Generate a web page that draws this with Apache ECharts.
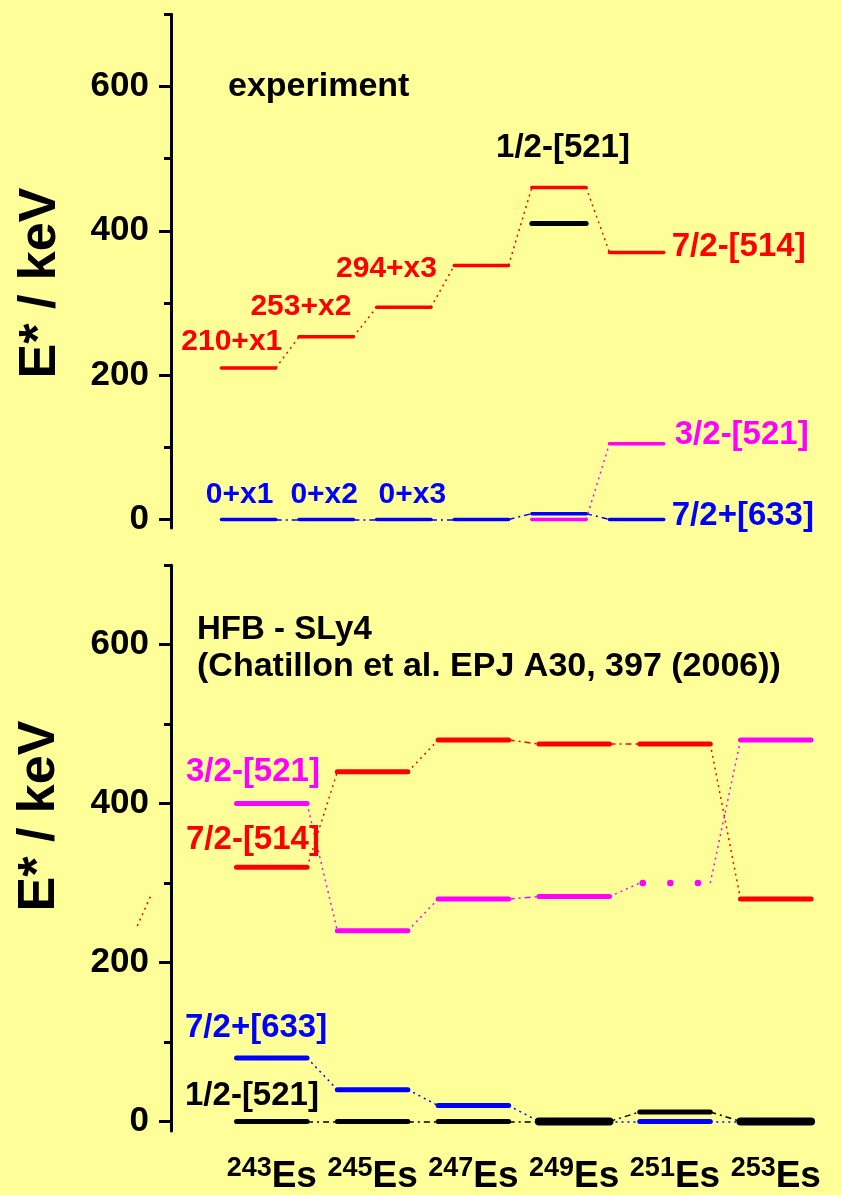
<!DOCTYPE html>
<html>
<head>
<meta charset="utf-8">
<script src="https://cdn.jsdelivr.net/npm/echarts@6/dist/echarts.min.js"></script>
<style>
  html, body { margin: 0; padding: 0; background: #FFFF99; }
  #chart { width: 842px; height: 1195px; }
</style>
</head>
<body>
<div id="chart"></div>
<script>
// Einsteinium isotopes (mass numbers)
const isotopes = [243, 245, 247, 249, 251, 253];

// Experiment: level energies in keV (null = level not shown)
const expOrb514  = [210, 253, 294, 352, 460, 370];        // 7/2-[514]
const expOrb521h = [null, null, null, null, 410, null];   // 1/2-[521]
const expOrb521t = [null, null, null, null, 0, 105];      // 3/2-[521]
const expOrb633  = [0, 0, 0, 0, 8, 0];                    // 7/2+[633]

// HFB - SLy4 calculation: level energies in keV
const hfbOrb514  = [320, 440, 480, 475, 475, 280];        // 7/2-[514]
const hfbOrb521t = [400, 240, 280, 283, 300, 480];        // 3/2-[521]
const hfbOrb633  = [80, 40, 20, 0, 0, 0];                 // 7/2+[633]
const hfbOrb521h = [0, 0, 0, 0, 12, 0];                   // 1/2-[521]

// short red connector piece lying left of the lower energy axis
const hfbEdgeLink = [[240.33, 246], [240.62, 287]];

// axis ticks
const yTicks = [0, 200, 400, 600];
const yMinorTicks = [100, 300, 500, 700];

// texts
const orbitalNames = { o514: '7/2-[514]', o521h: '1/2-[521]', o521t: '3/2-[521]', o633: '7/2+[633]' };
const expShiftTags = ['210+x1', '253+x2', '294+x3'];
const expGroundTags = ['0+x1', '0+x2', '0+x3'];
const panelTitles = ['experiment', 'HFB - SLy4', '(Chatillon et al. EPJ A30, 397 (2006))'];
const axisTitle = 'E* / keV';
const elementSymbol = 'Es';

// ---------------------------------------------------------------
const FONT = '"Liberation Sans", Arial, Helvetica, sans-serif';
const RED = '#FF0000', BLUE = '#0000FF', MAG = '#FF00FF', BLK = '#000000';
const HW = 0.7;                  // half length of a level bar, in mass units
const DOT = [2, 4];
const DASHDOT = [6, 4, 2, 4];

function levelSeries(panel, values, color, opts) {
  const data = [];
  values.forEach((v, i) => { if (v !== null) data.push([isotopes[i], v, i]); });
  return {
    type: 'custom', xAxisIndex: panel, yAxisIndex: panel * 2, silent: true, z: 3,
    data,
    renderItem(params, api) {
      const m = api.value(0), e = api.value(1), i = api.value(2);
      const p1 = api.coord([m - HW, e]);
      const p2 = api.coord([m + HW, e]);
      let width = opts.width;
      let dash = null;
      // a level sitting on top of another one of the panel is drawn heavier
      if (opts.overlaps && opts.overlaps.some(arr => arr[i] === e)) width = opts.width + 3;
      if (opts.dottedAt && opts.dottedAt.includes(isotopes[i])) { dash = [0.1, 27.5]; width = 6.5; }
      return {
        type: 'line',
        shape: { x1: p1[0], y1: p1[1], x2: p2[0], y2: p2[1] },
        style: { stroke: color, lineWidth: width, lineCap: 'round', lineDash: dash, lineDashOffset: dash ? -3 : 0 }
      };
    }
  };
}

function linkSeries(panel, values, color, patterns) {
  const data = [];
  for (let i = 0; i < isotopes.length - 1; i++) {
    if (values[i] === null || values[i + 1] === null) continue;
    data.push({
      coords: [[isotopes[i] + HW, values[i]], [isotopes[i + 1] - HW, values[i + 1]]],
      lineStyle: { type: patterns[i] }
    });
  }
  return {
    type: 'lines', coordinateSystem: 'cartesian2d', xAxisIndex: panel, yAxisIndex: panel * 2,
    silent: true, z: 2, data,
    lineStyle: { color, width: 1.5, opacity: 1, curveness: 0 }
  };
}

// level annotations: anchored to a level bar end, shifted in pixels
const notes = [
  { panel: 0, text: expShiftTags[0], vals: expOrb514, i: 0, at: 'right', dx: 6.5, dy: -26, align: 'right', size: 30, color: RED },
  { panel: 0, text: expShiftTags[1], vals: expOrb514, i: 1, at: 'right', dx: -2, dy: -30, align: 'right', size: 30, color: RED },
  { panel: 0, text: expShiftTags[2], vals: expOrb514, i: 2, at: 'right', dx: 6, dy: -39, align: 'right', size: 30, color: RED },
  { panel: 0, text: expGroundTags[0], vals: expOrb633, i: 0, at: 'mid', dx: -9, dy: -25, align: 'center', size: 30, color: BLUE },
  { panel: 0, text: expGroundTags[1], vals: expOrb633, i: 1, at: 'mid', dx: -2, dy: -25, align: 'center', size: 30, color: BLUE },
  { panel: 0, text: expGroundTags[2], vals: expOrb633, i: 2, at: 'mid', dx: 8.5, dy: -25, align: 'center', size: 30, color: BLUE },
  { panel: 0, text: orbitalNames.o521h, vals: expOrb521h, i: 4, at: 'mid', dx: 4, dy: -75.5, align: 'center', size: 33, color: BLK },
  { panel: 0, text: orbitalNames.o514, vals: expOrb514, i: 5, at: 'right', dx: 8, dy: -6, align: 'left', size: 33, color: RED },
  { panel: 0, text: orbitalNames.o521t, vals: expOrb521t, i: 5, at: 'right', dx: 11, dy: -8.5, align: 'left', size: 33, color: MAG },
  { panel: 0, text: orbitalNames.o633, vals: expOrb633, i: 5, at: 'right', dx: 8, dy: -3.5, align: 'left', size: 33, color: BLUE },
  { panel: 1, text: orbitalNames.o521t, vals: hfbOrb521t, i: 0, at: 'left', dx: -50.5, dy: -32, align: 'left', size: 33, color: MAG },
  { panel: 1, text: orbitalNames.o514, vals: hfbOrb514, i: 0, at: 'left', dx: -50.5, dy: -27, align: 'left', size: 33, color: RED },
  { panel: 1, text: orbitalNames.o633, vals: hfbOrb633, i: 0, at: 'left', dx: -51.5, dy: -30, align: 'left', size: 33, color: BLUE },
  { panel: 1, text: orbitalNames.o521h, vals: hfbOrb521h, i: 0, at: 'left', dx: -51.5, dy: -26, align: 'left', size: 33, color: BLK }
];

function noteSeries(panel) {
  const list = notes.filter(n => n.panel === panel);
  return {
    type: 'custom', xAxisIndex: panel, yAxisIndex: panel * 2, silent: true, z: 5,
    data: list.map((n, k) => [isotopes[n.i], n.vals[n.i], k]),
    renderItem(params, api) {
      const n = list[api.value(2)];
      const m = api.value(0) + (n.at === 'left' ? -HW : n.at === 'right' ? HW : 0);
      const p = api.coord([m, api.value(1)]);
      return {
        type: 'text', x: p[0] + n.dx, y: p[1] + n.dy,
        style: {
          text: n.text, fill: n.color, align: n.align, verticalAlign: 'middle',
          font: 'bold ' + n.size + 'px ' + FONT
        }
      };
    }
  };
}

function yAxes(gridIndex) {
  const base = { gridIndex, type: 'value', min: -12, max: 700, position: 'left', splitLine: { show: false } };
  return [
    Object.assign({}, base, {
      axisLine: { show: true, lineStyle: { color: BLK, width: 3 } },
      axisTick: { show: true, inside: false, length: 12, customValues: yTicks, lineStyle: { color: BLK, width: 3 } },
      axisLabel: { customValues: yTicks, margin: 22, color: BLK, fontSize: 35, fontWeight: 'bold', fontFamily: FONT }
    }),
    Object.assign({}, base, {
      axisLine: { show: false },
      axisTick: { show: true, inside: false, length: 7, customValues: yMinorTicks, lineStyle: { color: BLK, width: 3 } },
      axisLabel: { show: false }
    })
  ];
}

const chart = echarts.init(document.getElementById('chart'), null, { renderer: 'canvas' });

chart.setOption({
  backgroundColor: '#FFFF99',
  animation: false,
  grid: [
    { left: 171, top: 14.3, width: 504.4, height: 513.8 },
    { left: 171, top: 565.2, width: 655.2, height: 566 }
  ],
  xAxis: [
    { gridIndex: 0, type: 'value', min: 241, max: 254, show: false },
    {
      gridIndex: 1, type: 'value', min: 241, max: 254,
      axisLine: { show: false, onZero: false }, axisTick: { show: false }, splitLine: { show: false },
      axisLabel: {
        customValues: isotopes, margin: 24,
        formatter: v => '{m|' + v + '}{s|' + elementSymbol + '}',
        rich: {
          m: { fontSize: 27, fontWeight: 'bold', fontFamily: FONT, color: BLK, verticalAlign: 'bottom', padding: [0, 0, 13, 0] },
          s: { fontSize: 37, fontWeight: 'bold', fontFamily: FONT, color: BLK, verticalAlign: 'bottom' }
        }
      }
    }
  ],
  yAxis: yAxes(0).concat(yAxes(1)),
  graphic: [
    { type: 'text', x: 228, y: 87, style: { text: panelTitles[0], font: 'bold 34px ' + FONT, fill: BLK, align: 'left', verticalAlign: 'middle' } },
    { type: 'text', x: 197, y: 630, style: { text: panelTitles[1], font: 'bold 33px ' + FONT, fill: BLK, align: 'left', verticalAlign: 'middle' } },
    { type: 'text', x: 197, y: 667, style: { text: panelTitles[2], font: 'bold 34px ' + FONT, fill: BLK, align: 'left', verticalAlign: 'middle' } },
    { type: 'text', x: 41, y: 283, rotation: Math.PI / 2, style: { text: axisTitle, font: 'bold 52px ' + FONT, fill: BLK, align: 'center', verticalAlign: 'middle' } },
    { type: 'text', x: 40, y: 816, rotation: Math.PI / 2, style: { text: axisTitle, font: 'bold 52px ' + FONT, fill: BLK, align: 'center', verticalAlign: 'middle' } }
  ],
  series: [
    // experiment: connectors
    linkSeries(0, expOrb514, RED, [DOT, DOT, DOT, DOT, DOT]),
    linkSeries(0, expOrb521t, MAG, [DOT, DOT, DOT, DOT, DOT]),
    linkSeries(0, expOrb633, BLUE, [DASHDOT, DASHDOT, DASHDOT, DASHDOT, DASHDOT]),
    // experiment: levels
    levelSeries(0, expOrb521t, MAG, { width: 3.5 }),
    levelSeries(0, expOrb633, BLUE, { width: 3.5 }),
    levelSeries(0, expOrb514, RED, { width: 3.5 }),
    levelSeries(0, expOrb521h, BLK, { width: 5 }),
    noteSeries(0),

    // HFB: connectors
    linkSeries(1, hfbOrb514, RED, [DOT, DOT, DASHDOT, DASHDOT, DOT]),
    linkSeries(1, hfbOrb521t, MAG, [DOT, DOT, DASHDOT, DOT, DOT]),
    linkSeries(1, hfbOrb633, BLUE, [DOT, DOT, DOT, DOT, DOT]),
    linkSeries(1, hfbOrb521h, BLK, [DASHDOT, DASHDOT, DASHDOT, DASHDOT, DASHDOT]),
    {
      type: 'lines', coordinateSystem: 'cartesian2d', xAxisIndex: 1, yAxisIndex: 2, silent: true, clip: false, z: 2,
      data: [{ coords: hfbEdgeLink }],
      lineStyle: { color: RED, width: 1.5, opacity: 1, type: DOT }
    },
    // HFB: levels
    levelSeries(1, hfbOrb633, BLUE, { width: 5 }),
    levelSeries(1, hfbOrb521t, MAG, { width: 5, dottedAt: [251] }),
    levelSeries(1, hfbOrb514, RED, { width: 5 }),
    levelSeries(1, hfbOrb521h, BLK, { width: 5, overlaps: [hfbOrb633] }),
    noteSeries(1)
  ]
});
</script>
</body>
</html>
